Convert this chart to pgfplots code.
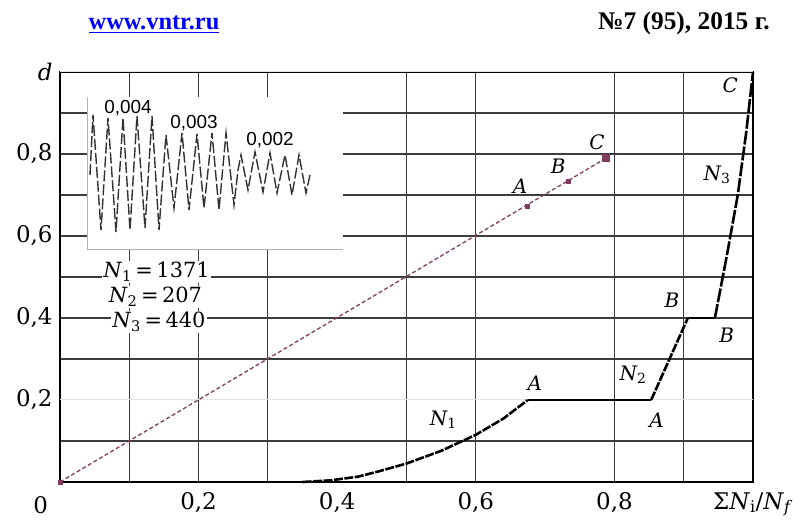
\documentclass[border=0pt]{standalone}
\usepackage{pgfplots}
\pgfplotsset{compat=1.18}
\usepackage{fontspec}
\setmainfont{DejaVu Serif}
\newfontfamily\timesf{Liberation Serif}
\newfontfamily\sansf{Liberation Sans}
\definecolor{gridc}{RGB}{60,60,60}
\definecolor{dashc}{RGB}{130,60,95}
\definecolor{linkblue}{RGB}{0,0,255}
\definecolor{oscc}{RGB}{50,50,50}

\begin{document}
\begin{tikzpicture}[x=1bp,y=1bp]
\path[use as bounding box] (-60,-39) rectangle (743,482);
\fill[white] (-60,-39) rectangle (743,482);
\node[anchor=base, inner sep=0pt, font=\timesf\bfseries\fontsize{24.5}{26}\selectfont, text=linkblue] at (94,452) {\underline{www.vntr.ru}};
\node[anchor=base east, inner sep=0pt, font=\timesf\bfseries\fontsize{25.5}{27}\selectfont] at (710,452) {№7 (95), 2015 г.};

\begin{axis}[
  scale only axis,
  width=693bp, height=410bp,
  xmin=0, xmax=1, ymin=0, ymax=1,
  clip=false,
  axis line style={black, line width=1.4bp},
  major tick length=0pt,
  tick style={draw=none},
  xtick={0.1,0.2,0.3,0.5,0.6,0.8,0.9},
  xticklabels={{},{0,2},{},{},{0,6},{0,8},{}},
  xmajorgrids=true,
  ytick={0.1,0.3,0.4,0.5,0.6,0.7,0.8,0.9},
  yticklabels={{},{},{0,4},{},{0,6},{},{0,8},{}},
  ymajorgrids=true,
  major grid style={gridc, line width=1.1bp},
  extra x ticks={0.4,1.0},
  extra x tick labels={{0,4},{Σ\textit{N}\textsubscript{i}/\textit{N}\textsubscript{\textit{f}}}},
  extra x tick style={xmajorgrids=false},
  extra y ticks={0.2,1.0},
  extra y tick labels={{0,2},{\textit{d}}},
  extra y tick style={ymajorgrids=true, major grid style={gray!20, line width=1bp}},
  tick label style={font=\fontsize{23}{25}\selectfont},
  xticklabel style={yshift=-7bp},
  yticklabel style={xshift=-4bp},
]
% linear damage summation (dashed)
\addplot[dashc, line width=1.3bp, dash pattern=on 4bp off 2.5bp] coordinates {(0,0) (0.788,0.79)};
\addplot[only marks, mark=square*, mark size=2bp, dashc] coordinates {(0,0) (0.674,0.673) (0.733,0.734)};
\addplot[only marks, mark=square*, mark size=3.5bp, dashc] coordinates {(0.788,0.79)};
% actual damage curve
\addplot[black, line width=2bp] coordinates {(0,0) (0.36,0)};
\addplot[black, line width=2.6bp, dash pattern=on 9bp off 1.5bp] coordinates {(0.35,0) (0.39,0.004) (0.43,0.013) (0.46,0.026) (0.5,0.045) (0.55,0.076) (0.6,0.115) (0.64,0.155) (0.675,0.2)};
\addplot[black, line width=1.3bp] coordinates {(0.675,0.2) (0.853,0.2)};
\addplot[black, line width=2.6bp, dash pattern=on 9bp off 1.5bp] coordinates {(0.853,0.2) (0.906,0.4)};
\addplot[black, line width=1.3bp] coordinates {(0.906,0.4) (0.945,0.4)};
\addplot[black, line width=2.6bp, dash pattern=on 14bp off 2bp] coordinates {(0.945,0.4) (0.962,0.55) (0.978,0.7) (0.99,0.85) (1.0,1.0)};

\node[font=\fontsize{20}{22}\selectfont\itshape] at (axis cs:0.685,0.241) {A};
\node[font=\fontsize{20}{22}\selectfont\itshape] at (axis cs:0.553,0.151) {N\textsubscript{\upshape 1}};
\node[font=\fontsize{20}{22}\selectfont\itshape] at (axis cs:0.664,0.722) {A};
\node[font=\fontsize{20}{22}\selectfont\itshape] at (axis cs:0.719,0.771) {B};
\node[font=\fontsize{20}{22}\selectfont\itshape] at (axis cs:0.775,0.829) {C};
\node[font=\fontsize{20}{22}\selectfont\itshape] at (axis cs:0.827,0.261) {N\textsubscript{\upshape 2}};
\node[font=\fontsize{20}{22}\selectfont\itshape] at (axis cs:0.861,0.151) {A};
\node[font=\fontsize{20}{22}\selectfont\itshape] at (axis cs:0.883,0.444) {B};
\node[font=\fontsize{20}{22}\selectfont\itshape] at (axis cs:0.962,0.359) {B};
\node[font=\fontsize{20}{22}\selectfont\itshape] at (axis cs:0.948,0.749) {N\textsubscript{\upshape 3}};
\node[font=\fontsize{20}{22}\selectfont\itshape] at (axis cs:0.967,0.968) {C};
\node[anchor=west, fill=white, inner sep=1.5bp, font=\fontsize{21}{23}\selectfont] at (axis cs:0.060,0.512) {\textit{N}\textsubscript{1}\,=\,1371};
\node[anchor=west, fill=white, inner sep=1.5bp, font=\fontsize{21}{23}\selectfont] at (axis cs:0.068,0.451) {\textit{N}\textsubscript{2}\,=\,207};
\node[anchor=west, fill=white, inner sep=1.5bp, font=\fontsize{21}{23}\selectfont] at (axis cs:0.073,0.390) {\textit{N}\textsubscript{3}\,=\,440};
\node[anchor=north, inner sep=0pt, yshift=-14bp, font=\fontsize{23}{25}\selectfont] at (axis cs:-0.028,0) {0};
\end{axis}

% inset oscillogram
\begin{axis}[
  at={(27,232)}, anchor=south west, scale only axis,
  width=256bp, height=153bp,
  xmin=87, xmax=343, ymin=0, ymax=153,
  axis background/.style={fill=white},
  axis x line*=bottom, axis y line*=left,
  axis line style={gray!60, line width=1bp, -},
  xtick=\empty, ytick=\empty,
  clip=false,
]
\addplot[oscc, line width=1.4bp, dash pattern=on 11bp off 3bp] coordinates {
(90,75) (93,135) (101,20) (108,132) (116,18) (123,132) (130,20) (137,134) (145,22) (152,134) (159,20) (163,75)
(166,115) (174,42) (182,117) (189,40) (197,116) (204,42) (212,117) (219,40) (226,117) (234,45) (238,80)
(241,95) (248,60) (255,98) (263,58) (270,97) (277,57) (285,95) (292,55) (299,95) (306,57) (310,75)};
\node[font=\sansf\fontsize{19}{21}\selectfont] at (axis cs:128,142) {0,004};
\node[font=\sansf\fontsize{19}{21}\selectfont] at (axis cs:194,127) {0,003};
\node[font=\sansf\fontsize{19}{21}\selectfont] at (axis cs:270,110) {0,002};
\end{axis}
\end{tikzpicture}
\end{document}
